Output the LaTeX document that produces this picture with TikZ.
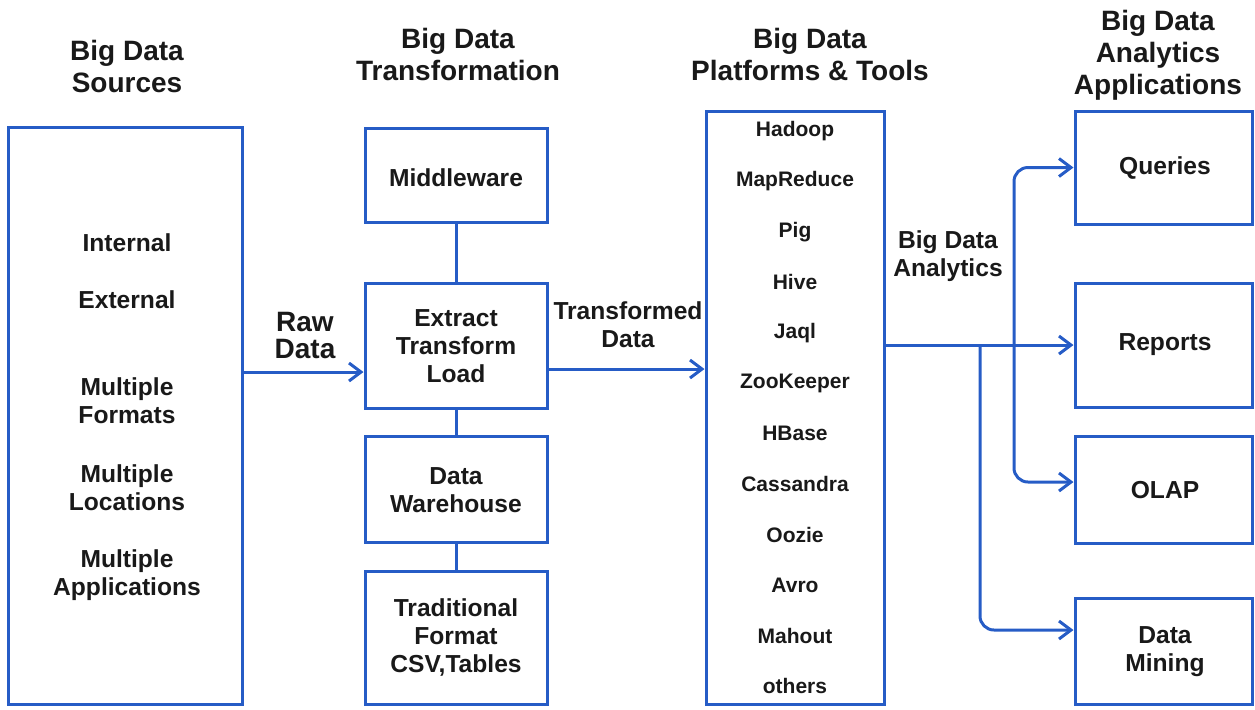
\documentclass[tikz,border=0pt]{standalone}
\usepackage{fontspec}
\setmainfont{Liberation Sans}
\usetikzlibrary{arrows.meta,positioning}
\definecolor{boxblue}{RGB}{38,92,198}
\definecolor{inkgray}{RGB}{25,25,25}

\begin{document}
\begin{tikzpicture}[x=0.5pt,y=-0.5pt,node distance=25.23pt,on grid,
    >={Straight Barb[length=6pt,width=9pt]}]
  \tikzstyle{box}=[draw=boxblue,line width=1.5pt,inner sep=0pt]
  \tikzstyle{head}=[align=center,text=inkgray,font=\fontsize{14}{16}\selectfont\bfseries]
  \tikzstyle{lbl}=[align=center,text=inkgray,font=\fontsize{12.3}{14}\selectfont\bfseries]
  \tikzstyle{tool}=[text=inkgray,font=\fontsize{10.5}{12}\selectfont\bfseries]
  \tikzstyle{link}=[draw=boxblue,line width=1.5pt]

  \useasboundingbox (0,0) rectangle (1255,709);

  % Column headings
  \node[head] (h_src)   at (127,66)  {Big Data\\Sources};
  \node[head] (h_trans) at (458,54)  {Big Data\\Transformation};
  \node[head] (h_tools) at (810,54)  {Big Data\\Platforms \& Tools};
  \node[head] (h_apps)  at (1158,55) {Big Data\\Analytics\\Applications};

  % Sources
  \node[box, minimum width=117pt, minimum height=288.5pt] (src) at (125,415.5) {};
  \node[lbl] (s_int) at (127,243) {Internal};
  \node[lbl] (s_ext) at (127,300) {External};
  \node[lbl] (s_fmt) at (127,401) {Multiple\\Formats};
  \node[lbl] (s_loc) at (127,488) {Multiple\\Locations};
  \node[lbl] (s_app) at (127,575) {Multiple\\Applications};

  % Transformation
  \node[box, minimum width=91pt, minimum height=47pt]   (mw)   at (456,175)   {};
  \node[box, minimum width=91pt, minimum height=62.5pt] (etl)  at (456,345.5) {};
  \node[box, minimum width=91pt, minimum height=53pt]   (dw)   at (456,489)   {};
  \node[box, minimum width=91pt, minimum height=66.5pt] (trad) at (456,637.5) {};
  \node[lbl] (mw_t)   at (456,178) {Middleware};
  \node[lbl] (etl_t)  at (456,346) {Extract\\Transform\\Load};
  \node[lbl] (dw_t)   at (456,490) {Data\\Warehouse};
  \node[lbl] (trad_t) at (456,637) {Traditional\\Format\\CSV,Tables};
  \draw[link] (mw) -- (etl);
  \draw[link] (etl) -- (dw);
  \draw[link] (dw) -- (trad);

  % Platforms & tools
  \node[box, minimum width=89pt, minimum height=296.5pt] (tools) at (795,407.5) {};
  \node[tool] (t_hadoop)               at (795,131) {Hadoop};
  \node[tool] (t_mapred) [below=of t_hadoop] {MapReduce};
  \node[tool] (t_pig)    [below=of t_mapred] {Pig};
  \node[tool] (t_hive)   [below=of t_pig]    {Hive};
  \node[tool] (t_jaql)   [below=of t_hive]   {Jaql};
  \node[tool] (t_zoo)    [below=of t_jaql]   {ZooKeeper};
  \node[tool] (t_hbase)  [below=of t_zoo]    {HBase};
  \node[tool] (t_cass)   [below=of t_hbase]  {Cassandra};
  \node[tool] (t_oozie)  [below=of t_cass]   {Oozie};
  \node[tool] (t_avro)   [below=of t_oozie]  {Avro};
  \node[tool] (t_mahout) [below=of t_avro]   {Mahout};
  \node[tool] (t_others) [below=of t_mahout] {others};

  % Applications
  \node[box, minimum width=88.5pt, minimum height=56.5pt] (queries) at (1163.5,167.5) {};
  \node[box, minimum width=88.5pt, minimum height=62pt]   (reports) at (1163.5,345)   {};
  \node[box, minimum width=88.5pt, minimum height=53.5pt] (olap)    at (1163.5,489.5) {};
  \node[box, minimum width=88.5pt, minimum height=53pt]   (mining)  at (1163.5,651)   {};
  \node[lbl] (q_t) at (1165,168) {Queries};
  \node[lbl] (r_t) at (1165,345) {Reports};
  \node[lbl] (o_t) at (1165,490) {OLAP};
  \node[lbl] (m_t) at (1165,652) {Data\\Mining};

  % Flows between the columns
  \coordinate (raw_y)   at (0,372);
  \coordinate (trans_y) at (0,369);
  \draw[link,->] (src.east |- raw_y) -- (etl.west |- raw_y);
  \draw[link,->] (etl.east |- trans_y) -- (tools.west |- trans_y);
  \draw[link,->] (tools.east |- reports.west) -- (reports.west);
  \node[head, font=\fontsize{14}{13.5}\selectfont\bfseries] (l_raw) at (305,335.5) {Raw\\Data};
  \node[lbl] (l_trans) at (628,325) {Transformed\\Data};
  \node[lbl] (l_anal)  at (948,256) {Big Data\\Analytics};

  % Branches off the analytics line
  \coordinate (j_olap) at (1014,345);
  \coordinate (j_mine) at (980,345);
  \draw[link,->,rounded corners=7pt] (j_olap) |- (queries.west);
  \draw[link,->,rounded corners=7pt] (j_olap) |- ([yshift=3.75pt]olap.west);
  \draw[link,->,rounded corners=7pt] (j_mine) |- ([yshift=10.5pt]mining.west);
\end{tikzpicture}
\end{document}
